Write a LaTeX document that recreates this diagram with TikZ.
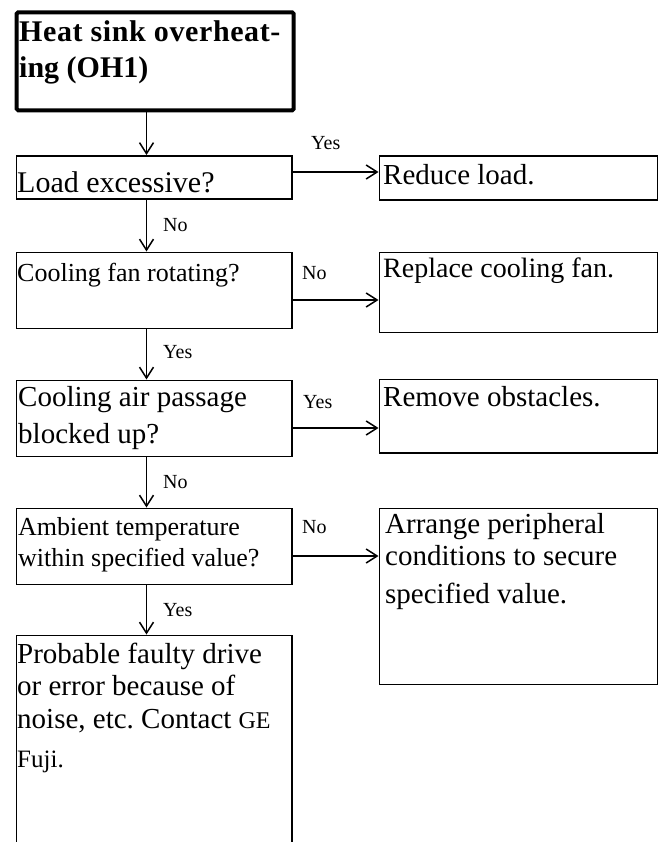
\documentclass[tikz,border=0pt]{standalone}
\usepackage{fontspec}
\setmainfont{Liberation Serif}
\usetikzlibrary{arrows.meta}
\frenchspacing
\begin{document}
\begin{tikzpicture}[x=1pt,y=-1pt,
  box/.style={draw, line width=1.8pt, rectangle, inner sep=0pt, anchor=north west},
  titlebox/.style={box, line width=4pt, rounded corners=1.5pt},
  arr/.style={draw, line width=1.5pt, -{Straight Barb[length=11pt,width=14pt,line width=1.5pt]}},
  lbl/.style={anchor=base west, inner sep=0pt, font=\fontsize{20}{24}\selectfont},
  txt/.style={anchor=base west, inner sep=0pt},
  fbig/.style={font=\fontsize{29}{34}\selectfont},
  fsmall/.style={font=\fontsize{26}{30}\selectfont},
]
\useasboundingbox (0,0) rectangle (660,842);
\clip (0,0) rectangle (660,842);

% boxes
\node[titlebox, minimum width=277pt, minimum height=98pt] (t) at (14.7,10.3) {};
\node[box, minimum width=275.5pt, minimum height=43.5pt] (b1) at (15.5,155) {};
\node[box, minimum width=278pt, minimum height=43.5pt] (r1) at (378.5,155.5) {};
\node[box, minimum width=275.5pt, minimum height=76pt] (b2) at (15.5,251.5) {};
\node[box, minimum width=278pt, minimum height=80pt] (r2) at (378.5,251.5) {};
\node[box, minimum width=275.5pt, minimum height=76pt] (b3) at (15.5,379.5) {};
\node[box, minimum width=278pt, minimum height=73.5pt] (r3) at (378.5,378.5) {};
\node[box, minimum width=275.5pt, minimum height=76pt] (b4) at (15.5,507.5) {};
\node[box, minimum width=278pt, minimum height=176pt] (r4) at (378.5,507.5) {};
\node[box, minimum width=275.5pt, minimum height=260pt] (b5) at (15.5,634.5) {};

% texts
\node[txt, font=\bfseries\fontsize{30}{36}\selectfont\addfontfeature{LetterSpace=2}] (tt1) at (19,42) {Heat sink overheat-};
\node[txt, font=\bfseries\fontsize{30}{36}\selectfont] (tt2) at (19,78) {ing (OH1)};
\node[txt, font=\fontsize{30}{36}\selectfont] (b1t) at (17,193) {Load excessive?};
\node[txt, fbig] (r1t) at (383,185) {Reduce load.};
\node[txt, fsmall] (b2t) at (17,281) {Cooling fan rotating?};
\node[txt, font=\fontsize{28}{34}\selectfont] (r2t) at (383,277) {Replace cooling fan.};
\node[txt, fbig] (b3t1) at (18,406) {Cooling air passage};
\node[txt, fbig] (b3t2) at (18,443) {blocked up?};
\node[txt, fbig] (r3t) at (383,406) {Remove obstacles.};
\node[txt, fsmall] (b4t1) at (18,535) {Ambient temperature};
\node[txt, fsmall] (b4t2) at (18,566) {within specified value?};
\node[txt, fbig] (r4t1) at (385,533) {Arrange peripheral};
\node[txt, fbig] (r4t2) at (385,565) {conditions to secure};
\node[txt, fbig] (r4t3) at (385,603) {specified value.};
\node[txt, fbig] (b5t1) at (17,663) {Probable faulty drive};
\node[txt, fbig] (b5t2) at (17,695) {or error because of};
\node[txt, fbig] (b5t3) at (17,728) {noise, etc. Contact {\fontsize{24}{28}\selectfont GE}};
\node[txt, font=\fontsize{25}{30}\selectfont] (b5t4) at (17,767) {Fuji.};

% labels
\node[lbl] (l1) at (311,150) {Yes};
\node[lbl] (l2) at (163,231) {No};
\node[lbl] (l3) at (302,279) {No};
\node[lbl] (l4) at (163,358) {Yes};
\node[lbl] (l5) at (303,408) {Yes};
\node[lbl] (l6) at (163,488) {No};
\node[lbl] (l7) at (302,533) {No};
\node[lbl] (l8) at (163,616) {Yes};

% connectors
\coordinate (ax) at (146.5,0);
\coordinate (h1) at (0,172);
\coordinate (h2) at (0,300);
\coordinate (h3) at (0,428);
\coordinate (h4) at (0,556);
\draw[arr] (t.south -| ax) -- (b1.north -| ax);
\draw[arr] (b1.south -| ax) -- (b2.north -| ax);
\draw[arr] (b2.south -| ax) -- (b3.north -| ax);
\draw[arr] (b3.south -| ax) -- (b4.north -| ax);
\draw[arr] (b4.south -| ax) -- (b5.north -| ax);
\draw[arr] (b1.east |- h1) -- (r1.west |- h1);
\draw[arr] (b2.east |- h2) -- (r2.west |- h2);
\draw[arr] (b3.east |- h3) -- (r3.west |- h3);
\draw[arr] (b4.east |- h4) -- (r4.west |- h4);
\end{tikzpicture}
\end{document}
